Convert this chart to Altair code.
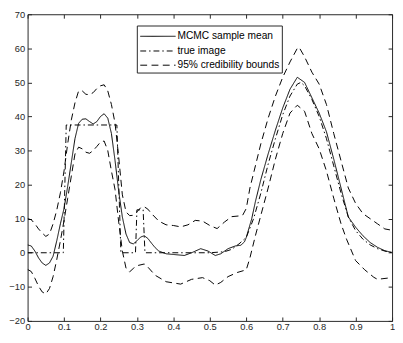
import altair as alt
import pandas as pd

# ---- data ----
mean_x = [0, 0.01, 0.02, 0.03, 0.04, 0.05, 0.06, 0.07, 0.08, 0.09, 0.10, 0.11, 0.12, 0.13, 0.14,
          0.15, 0.16, 0.17, 0.18, 0.19, 0.20, 0.21, 0.22, 0.23, 0.24, 0.25, 0.26, 0.27, 0.28, 0.29,
          0.30, 0.31, 0.32, 0.33, 0.34, 0.35, 0.36, 0.38, 0.40, 0.43, 0.45, 0.475, 0.495, 0.515,
          0.53, 0.55, 0.57, 0.585, 0.595, 0.60, 0.615, 0.625, 0.64, 0.66, 0.68, 0.70, 0.72, 0.74,
          0.76, 0.78, 0.80, 0.82, 0.84, 0.86, 0.88, 0.90, 0.92, 0.94, 0.96, 0.98, 1.0]
mean_y = [2.3, 2.0, 0.5, -1.5, -3.0, -3.7, -3.0, -1.0, 3.5, 8.5, 13.0, 19.5, 26.5, 33.5, 38.0,
          39.2, 39.3, 38.5, 37.8, 38.5, 40.0, 40.8, 39.5, 35.0, 27.0, 18.0, 10.5, 5.5, 3.0, 2.6,
          3.5, 4.6, 5.0, 4.2, 2.8, 1.5, 0.5, -0.3, -0.5, -0.8, 0.0, 1.2, 0.5, -0.8,
          -0.3, 1.2, 2.0, 2.2, 3.2, 4.5, 10.0, 15.0, 21.5, 29.0, 36.0, 42.5, 48.0, 51.5,
          50.0, 45.5, 41.0, 35.5, 27.5, 19.0, 10.5, 7.5, 5.0, 3.0, 1.6, 0.6, 0.1]

upper_x = [0, 0.01, 0.02, 0.03, 0.04, 0.05, 0.06, 0.07, 0.08, 0.09, 0.10, 0.11, 0.12, 0.13, 0.14,
           0.15, 0.16, 0.17, 0.18, 0.19, 0.20, 0.21, 0.22, 0.23, 0.24, 0.25, 0.26, 0.27, 0.28, 0.29,
           0.30, 0.31, 0.32, 0.33, 0.34, 0.36, 0.38, 0.40, 0.42, 0.44, 0.46, 0.48, 0.50, 0.52, 0.54,
           0.56, 0.58, 0.59, 0.60, 0.61, 0.625, 0.64, 0.66, 0.68, 0.70, 0.72, 0.74, 0.745, 0.76,
           0.78, 0.80, 0.82, 0.84, 0.86, 0.88, 0.90, 0.92, 0.94, 0.96, 0.98, 1.0]
upper_y = [10.0, 9.7, 8.5, 7.0, 5.8, 4.8, 5.5, 8.5, 12.5, 17.6, 24.0, 32.0, 39.0, 44.0, 47.5,
           47.5, 46.5, 46.4, 47.0, 48.2, 49.0, 49.3, 47.5, 43.5, 38.0, 28.0, 17.0, 12.0, 10.9, 11.0,
           12.0, 13.2, 13.5, 12.8, 11.5, 9.3, 8.2, 8.0, 7.6, 8.2, 9.5, 9.3, 8.0, 7.1, 9.0,
           10.6, 10.8, 11.0, 13.0, 19.0, 25.5, 32.0, 39.5, 46.0, 51.5, 56.0, 60.0, 60.3, 57.5,
           53.0, 49.5, 43.5, 35.0, 27.0, 19.0, 14.5, 11.5, 10.0, 8.5, 7.0, 6.6]

lower_x = [0, 0.01, 0.02, 0.03, 0.04, 0.05, 0.06, 0.07, 0.08, 0.09, 0.10, 0.11, 0.12, 0.13, 0.14,
           0.15, 0.16, 0.17, 0.18, 0.19, 0.20, 0.21, 0.22, 0.23, 0.24, 0.25, 0.26, 0.27, 0.28, 0.29,
           0.30, 0.32, 0.33, 0.35, 0.38, 0.42, 0.45, 0.48, 0.50, 0.515, 0.53, 0.55, 0.575, 0.60,
           0.61, 0.625, 0.64, 0.66, 0.68, 0.70, 0.72, 0.74, 0.76, 0.78, 0.80, 0.82, 0.84, 0.86,
           0.875, 0.90, 0.925, 0.95, 0.96, 0.975, 1.0]
lower_y = [-4.9, -5.5, -7.5, -9.8, -11.5, -12.1, -10.5, -7.0, -2.0, 3.5, 9.5, 16.0, 22.5, 29.0, 31.0,
           30.5, 29.5, 29.2, 30.0, 31.2, 32.5, 32.8, 30.0, 24.0, 18.5, 9.0, 0.5, -4.5, -5.6, -4.6,
           -3.8, -3.3, -4.2, -6.6, -8.5, -9.2, -7.8, -7.3, -8.2, -9.5, -8.7, -7.0, -5.8, -5.0,
           -1.5, 5.0, 11.0, 19.0, 27.5, 35.0, 41.0, 43.3, 41.5, 35.0, 30.5, 24.0, 16.0, 8.5,
           4.0, -2.3, -5.0, -7.2, -7.8, -7.6, -7.3]

true_x = [0, 0.098, 0.106, 0.245, 0.256, 0.296, 0.300, 0.317, 0.322, 0.50, 0.54, 0.56, 0.58,
          0.60, 0.62, 0.64, 0.66, 0.68, 0.70, 0.72, 0.74, 0.75, 0.76, 0.78, 0.80, 0.82, 0.84,
          0.86, 0.88, 0.90, 0.92, 0.94, 0.96, 0.98, 1.0]
true_y = [0, 0, 37.5, 37.5, 0, 0, 12.6, 12.6, 0, 0, 0.3, 1.0, 2.6,
          4.5, 10.0, 17.5, 26.0, 33.5, 40.5, 46.0, 49.5, 50.0, 49.0, 45.0, 40.0, 33.5, 25.5,
          17.5, 10.5, 6.5, 4.0, 2.3, 1.2, 0.5, 0.0]

series_names = ["MCMC sample mean", "true image", "95% credibility bounds"]
x_ticks = [0, 0.1, 0.2, 0.3, 0.4, 0.5, 0.6, 0.7, 0.8, 0.9, 1]
y_ticks = [-20, -10, 0, 10, 20, 30, 40, 50, 60, 70]

# ---- build long table ----
rows = []
for xs_, ys_, name, curve in [
    (mean_x, mean_y, series_names[0], "mean"),
    (true_x, true_y, series_names[1], "true"),
    (upper_x, upper_y, series_names[2], "upper"),
    (lower_x, lower_y, series_names[2], "lower"),
]:
    for a, b in zip(xs_, ys_):
        rows.append({"x": a, "y": b, "series": name, "curve": curve})
df = pd.DataFrame(rows)

AXC = "#262626"
FONT = "Liberation Sans"
dash_scale = alt.Scale(domain=series_names, range=[[1, 0], [6, 3, 1.5, 3], [7, 4.5]])
xs = alt.Scale(domain=[0, 1], nice=False, zero=False)
ys = alt.Scale(domain=[-20, 70], nice=False, zero=False)

common_axis = dict(domain=False, ticks=True, tickSize=4, tickColor=AXC, tickWidth=1,
                   offset=-4, grid=False, title=None, labelFlush=False)

lines = alt.Chart(df).mark_line(color="black", strokeWidth=1, clip=True).encode(
    x=alt.X("x:Q", scale=xs, axis=alt.Axis(values=x_ticks, format="~g", orient="bottom",
                                           labelPadding=1, labelFont=FONT, labelFontSize=9.5,
                                           labelColor=AXC, **common_axis)),
    y=alt.Y("y:Q", scale=ys, axis=alt.Axis(values=y_ticks, orient="left", labelPadding=3,
                                           labelFont=FONT, labelFontSize=9.5, labelColor=AXC,
                                           **common_axis)),
    strokeDash=alt.StrokeDash("series:N", scale=dash_scale, legend=None),
    detail="curve:N",
)

# ---- legend (drawn inside the plot) ----
box = alt.Chart(pd.DataFrame({"a": [0]})).mark_rect(
    fill="white", stroke=AXC, strokeWidth=1
).encode(x=alt.value(112), x2=alt.value(260), y=alt.value(12), y2=alt.value(60))

row_y = [22.5, 37.5, 52.0]
leg_layers = [box]
for i, name in enumerate(series_names):
    d = pd.DataFrame({"series": [name]})
    leg_layers.append(
        alt.Chart(d).mark_rule(color="black", strokeWidth=1).encode(
            x=alt.value(115), x2=alt.value(151), y=alt.value(row_y[i]),
            strokeDash=alt.StrokeDash("series:N", scale=dash_scale, legend=None),
        )
    )
    leg_layers.append(
        alt.Chart(d).mark_text(align="left", baseline="middle", font=FONT, fontSize=10.4,
                               color="black").encode(
            x=alt.value(153), y=alt.value(row_y[i]), text="series:N"
        )
    )

main = alt.layer(lines, *leg_layers)

# ---- top / right inward ticks ----
frame = alt.Chart(pd.DataFrame({"x": [0, 1], "y": [-20, 70]})).mark_point(opacity=0).encode(
    x=alt.X("x:Q", scale=xs, axis=alt.Axis(values=x_ticks, orient="top", labels=False, **common_axis)),
    y=alt.Y("y:Q", scale=ys, axis=alt.Axis(values=y_ticks, orient="right", labels=False, **common_axis)),
)

chart = alt.layer(main, frame).resolve_scale(x="independent", y="independent").properties(
    width=372, height=313,
    autosize=alt.AutoSizeParams(type="none"),
    padding={"left": 20, "top": 3, "right": 3, "bottom": 11},
).configure_view(stroke=AXC, strokeWidth=1)

chart.save("out.html", embed_options={"renderer": "svg", "actions": False})
